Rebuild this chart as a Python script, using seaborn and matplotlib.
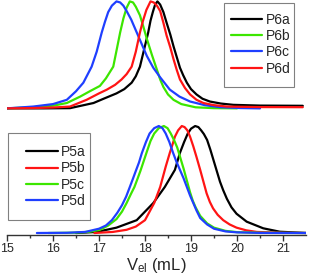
import numpy as np
import pandas as pd
import matplotlib
matplotlib.use("Agg")
import matplotlib.pyplot as plt
from matplotlib.patches import Rectangle
import seaborn as sns

sns.set_style("white")
plt.rcParams['font.family'] = ['Liberation Sans', 'DejaVu Sans']
plt.rcParams['mathtext.default'] = 'regular'

# ---- data (elution volume in mL, normalized RI signal) ----
p5a_x = [16.50, 16.95, 17.38, 17.82, 18.18, 18.43, 18.65, 18.76, 18.85, 18.93, 19.00, 19.09, 19.16, 19.22, 19.28, 19.35, 19.42, 19.49, 19.56, 19.63, 19.70, 19.78, 19.88, 19.99, 20.21, 20.57, 20.93, 21.50]
p5a_y = [0.0, 0.01, 0.05, 0.12, 0.28, 0.43, 0.59, 0.75, 0.85, 0.93, 0.975, 1.00, 0.99, 0.96, 0.925, 0.87, 0.78, 0.68, 0.58, 0.48, 0.40, 0.32, 0.24, 0.18, 0.106, 0.044, 0.012, 0.0]

p5b_x = [16.90, 17.30, 17.60, 17.80, 18.00, 18.20, 18.33, 18.45, 18.54, 18.60, 18.65, 18.72, 18.80, 18.86, 18.92, 18.98, 19.05, 19.12, 19.20, 19.27, 19.34, 19.41, 19.48, 19.58, 19.70, 19.84, 19.99, 20.20, 20.43, 21.00, 21.50]
p5b_y = [0.0, 0.01, 0.03, 0.06, 0.12, 0.28, 0.43, 0.62, 0.75, 0.83, 0.90, 0.96, 1.00, 0.99, 0.96, 0.90, 0.81, 0.71, 0.59, 0.48, 0.37, 0.29, 0.23, 0.17, 0.12, 0.08, 0.05, 0.025, 0.01, 0.002, 0.0]

p5c_x = [15.90, 16.50, 16.80, 17.02, 17.20, 17.38, 17.50, 17.60, 17.70, 17.77, 17.84, 17.90, 17.97, 18.04, 18.12, 18.20, 18.30, 18.41, 18.49, 18.56, 18.63, 18.70, 18.77, 18.84, 18.91, 18.98, 19.04, 19.10, 19.20, 19.35, 19.50, 19.75, 20.00, 20.50, 21.50]
p5c_y = [0.0, 0.003, 0.012, 0.03, 0.07, 0.13, 0.20, 0.28, 0.37, 0.43, 0.51, 0.58, 0.67, 0.76, 0.86, 0.93, 0.98, 1.00, 0.98, 0.93, 0.87, 0.80, 0.70, 0.60, 0.49, 0.38, 0.30, 0.24, 0.16, 0.09, 0.05, 0.02, 0.008, 0.002, 0.0]

p5d_x = [15.65, 16.30, 16.70, 17.00, 17.15, 17.28, 17.40, 17.50, 17.59, 17.67, 17.74, 17.80, 17.87, 17.93, 18.02, 18.10, 18.20, 18.30, 18.38, 18.45, 18.53, 18.61, 18.68, 18.76, 18.84, 18.91, 18.98, 19.05, 19.12, 19.20, 19.35, 19.50, 19.75, 20.00, 20.50, 21.50]
p5d_y = [0.0, 0.002, 0.01, 0.04, 0.07, 0.12, 0.19, 0.26, 0.34, 0.43, 0.51, 0.58, 0.66, 0.745, 0.85, 0.93, 0.98, 1.00, 0.98, 0.93, 0.85, 0.75, 0.67, 0.59, 0.51, 0.43, 0.35, 0.28, 0.21, 0.14, 0.08, 0.04, 0.015, 0.006, 0.001, 0.0]

p6a_x = [15.00, 15.80, 16.37, 16.88, 17.10, 17.38, 17.55, 17.71, 17.80, 17.89, 17.98, 18.07, 18.12, 18.17, 18.22, 18.27, 18.33, 18.40, 18.47, 18.55, 18.62, 18.69, 18.76, 18.83, 18.91, 19.00, 19.12, 19.25, 19.41, 19.65, 19.92, 20.50, 21.43]
p6a_y = [0.0, 0.0, 0.002, 0.05, 0.09, 0.14, 0.18, 0.24, 0.30, 0.39, 0.55, 0.71, 0.82, 0.90, 0.97, 1.00, 0.97, 0.90, 0.80, 0.69, 0.58, 0.48, 0.38, 0.31, 0.24, 0.18, 0.13, 0.09, 0.064, 0.045, 0.033, 0.026, 0.024]

p6b_x = [15.00, 15.57, 16.00, 16.30, 16.59, 16.80, 17.02, 17.15, 17.31, 17.39, 17.46, 17.53, 17.60, 17.67, 17.74, 17.80, 17.89, 17.96, 18.04, 18.15, 18.26, 18.33, 18.40, 18.50, 18.62, 18.79, 19.10, 19.50, 20.00]
p6b_y = [0.0, 0.011, 0.025, 0.05, 0.11, 0.16, 0.21, 0.28, 0.39, 0.56, 0.71, 0.84, 0.94, 1.00, 0.99, 0.95, 0.87, 0.77, 0.65, 0.50, 0.36, 0.27, 0.20, 0.13, 0.08, 0.04, 0.01, 0.002, 0.0]

p6c_x = [15.00, 15.57, 16.00, 16.30, 16.50, 16.66, 16.84, 16.95, 17.06, 17.13, 17.20, 17.28, 17.38, 17.46, 17.53, 17.60, 17.70, 17.82, 17.93, 18.04, 18.18, 18.33, 18.54, 18.75, 18.98, 19.30, 19.63, 20.07, 20.50]
p6c_y = [0.0, 0.017, 0.04, 0.08, 0.16, 0.24, 0.39, 0.53, 0.71, 0.81, 0.90, 0.96, 1.00, 0.99, 0.96, 0.91, 0.83, 0.71, 0.60, 0.49, 0.38, 0.29, 0.175, 0.11, 0.064, 0.03, 0.011, 0.003, 0.0]

p6d_x = [15.00, 15.57, 16.00, 16.37, 16.73, 17.00, 17.17, 17.35, 17.49, 17.60, 17.71, 17.80, 17.89, 17.95, 18.03, 18.12, 18.19, 18.26, 18.33, 18.40, 18.47, 18.55, 18.62, 18.69, 18.76, 18.87, 18.98, 19.12, 19.27, 19.50, 19.78, 20.50, 21.43]
p6d_y = [0.0, 0.003, 0.008, 0.017, 0.08, 0.14, 0.175, 0.22, 0.27, 0.32, 0.39, 0.53, 0.71, 0.81, 0.92, 1.00, 0.99, 0.96, 0.91, 0.80, 0.68, 0.57, 0.46, 0.36, 0.27, 0.19, 0.13, 0.08, 0.05, 0.03, 0.017, 0.012, 0.011]

labels_top = ["P6a", "P6b", "P6c", "P6d"]
labels_bottom = ["P5a", "P5b", "P5c", "P5d"]
top_offset = 1.165

c_black, c_red, c_green, c_blue = "#000000", "#ff1414", "#3ce600", "#1f3fff"

bottom = [(labels_bottom[0], p5a_x, p5a_y, c_black), (labels_bottom[1], p5b_x, p5b_y, c_red),
          (labels_bottom[2], p5c_x, p5c_y, c_green), (labels_bottom[3], p5d_x, p5d_y, c_blue)]
top = [(labels_top[0], p6a_x, p6a_y, c_black), (labels_top[1], p6b_x, p6b_y, c_green),
       (labels_top[2], p6c_x, p6c_y, c_blue), (labels_top[3], p6d_x, p6d_y, c_red)]

W, H = 309, 279
fig = plt.figure(figsize=(W / 100, H / 100), dpi=100)
ax = fig.add_axes([7 / W, 1 - 234.5 / H, 299 / W, 234.5 / H])

lw = 1.6
top_handles = []
for name, xs, ys, col in top:
    df = pd.DataFrame({"x": xs, "y": np.array(ys) + top_offset})
    sns.lineplot(data=df, x="x", y="y", ax=ax, color=col, lw=lw, sort=False, estimator=None)
    top_handles.append(ax.lines[-1])
bot_handles = []
for name, xs, ys, col in bottom:
    df = pd.DataFrame({"x": xs, "y": ys})
    sns.lineplot(data=df, x="x", y="y", ax=ax, color=col, lw=lw, sort=False, estimator=None)
    bot_handles.append(ax.lines[-1])

ax.set_xlim(15, 21.5)
ax.set_ylim(-0.014, 2.178)
ax.set_xticks([15, 16, 17, 18, 19, 20, 21])
ax.set_xticks(np.arange(15.5, 21.5, 1.0), minor=True)
ax.set_yticks([])
ax.set_ylabel("")
for s in ["top", "left", "right"]:
    ax.spines[s].set_visible(False)
ax.spines["bottom"].set_color("#333333")
ax.spines["bottom"].set_linewidth(1.0)
ax.tick_params(axis="x", which="major", direction="out", length=4, width=1, color="#333333",
               labelsize=9, pad=2, bottom=True)
ax.tick_params(axis="x", which="minor", direction="out", length=2.5, width=1, color="#333333", bottom=True)
ax.set_xlabel("V$_{el}$ (mL)", fontsize=12, labelpad=1)

# legend frames (pixel boxes)
for (x0, y0, x1, y1) in [(224, 3, 294, 87), (8, 133, 90, 220)]:
    r = Rectangle((x0 / W, 1 - y1 / H), (x1 - x0) / W, (y1 - y0) / H,
                  transform=fig.transFigure, fill=False,
                  edgecolor="#808080", lw=0.8, zorder=4, clip_on=False)
    ax.add_patch(r)

leg_kw = dict(fontsize=10, frameon=False, handlelength=2.3, handletextpad=0.22,
              labelspacing=0.17, borderpad=0, borderaxespad=0)
leg1 = ax.legend(top_handles, labels_top, loc="upper left",
                 bbox_to_anchor=(230.5 / W, 1 - 12.5 / H), bbox_transform=fig.transFigure, **leg_kw)
leg1.set_zorder(5)
ax.add_artist(leg1)
leg2 = ax.legend(bot_handles, labels_bottom, loc="upper left",
                 bbox_to_anchor=(26 / W, 1 - 145 / H), bbox_transform=fig.transFigure, **leg_kw)
leg2.set_zorder(5)

fig.savefig("out.png", dpi=100)
